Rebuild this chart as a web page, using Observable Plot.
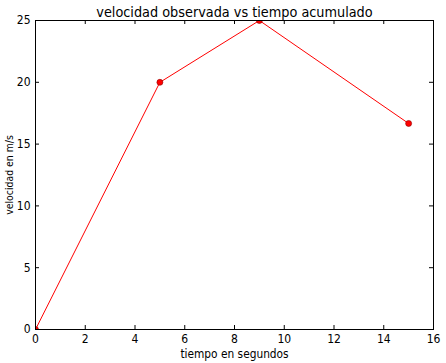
<!DOCTYPE html>
<html><head><meta charset="utf-8">
<script src="https://cdn.jsdelivr.net/npm/d3@7"></script>
<script src="https://cdn.jsdelivr.net/npm/@observablehq/plot@0.6"></script>
<style>body{margin:0;background:#fff;}svg{font-family:"DejaVu Sans Condensed","DejaVu Sans",sans-serif;}</style>
</head><body><div id="chart"></div>
<script>
const tiempo = [0, 5, 9, 15];
const velocidad = [0, 20, 25, 16.67];
const xTicks = [0, 2, 4, 6, 8, 10, 12, 14, 16];
const yTicks = [0, 5, 10, 15, 20, 25];
const title = "velocidad observada vs tiempo acumulado";
const data = tiempo.map((t, i) => ({t, v: velocidad[i]}));
const W = 446, H = 363, mT = 20, mB = 34, mL = 35, mR = 13;
const ph = H - mT - mB, pw = W - mL - mR, tk = 4;
const chart = Plot.plot({
  width: W, height: H, marginTop: mT, marginBottom: mB, marginLeft: mL, marginRight: mR,
  style: {fontFamily: "'DejaVu Sans Condensed', 'DejaVu Sans', sans-serif", fontSize: "11px", background: "#fff", color: "#000"},
  x: {domain: [0, 16]},
  y: {domain: [0, 25]},
  marks: [
    Plot.axisX({ticks: xTicks, tickSize: 0, tickPadding: 5, fontSize: 12, label: null}),
    Plot.axisY({ticks: yTicks, tickSize: 0, tickPadding: 5, fontSize: 12, label: null}),
    Plot.axisY({ticks: yTicks, tickSize: 0, tickFormat: () => "", fontSize: 10.4, label: "velocidad en m/s", labelAnchor: "center", labelOffset: 30, labelArrow: "none"}),
    Plot.text(["tiempo en segundos"], {text: d => d, frameAnchor: "bottom", lineAnchor: "bottom", dy: 28, fontSize: 11.8, fill: "#000"}),
    Plot.tickX(xTicks, {x: d => d, insetTop: ph - tk, stroke: "#000"}),
    Plot.tickX(xTicks, {x: d => d, insetBottom: ph - tk, stroke: "#000"}),
    Plot.tickY(yTicks, {y: d => d, insetRight: pw - tk, stroke: "#000"}),
    Plot.tickY(yTicks, {y: d => d, insetLeft: pw - tk, stroke: "#000"}),
    Plot.line(data, {x: "t", y: "v", stroke: "#ff0000", strokeWidth: 1}),
    Plot.dot(data, {x: "t", y: "v", r: 3, fill: "#ff0000", stroke: "#8b0000", strokeWidth: 0.6, clip: "frame"}),
    Plot.frame({stroke: "#000", strokeWidth: 1}),
    Plot.text([title], {text: d => d, frameAnchor: "top", lineAnchor: "bottom", dy: -4, fontSize: 14.3, fill: "#000"})
  ]
});
document.getElementById("chart").append(chart);
</script></body></html>
